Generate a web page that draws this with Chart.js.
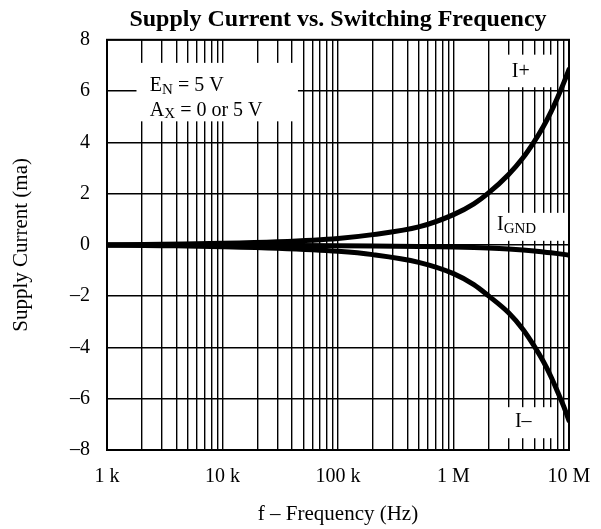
<!DOCTYPE html>
<html>
<head>
<meta charset="utf-8">
<script src="https://cdn.jsdelivr.net/npm/chart.js@4/dist/chart.umd.min.js"></script>
<style>
  html, body { margin: 0; padding: 0; background: #fff; overflow: hidden; }
  #wrap { width: 601px; height: 529px; position: relative; }
</style>
</head>
<body>
<div id="wrap"><canvas id="chart"></canvas></div>
<script>
// frequencies (Hz)
const freqs = [1e3, 3e3, 1e4, 3e4, 1e5, 2e5, 5e5, 1e6, 1.5e6, 2e6, 3e6, 4e6, 5e6, 6e6, 7e6, 8e6, 9e6, 1e7];
// supply currents (mA)
const iPlus = [0, 0.03, 0.06, 0.12, 0.25, 0.4, 0.7, 1.18, 1.6, 2.02, 2.75, 3.4, 4.03, 4.62, 5.2, 5.77, 6.32, 6.85];
const iMinus = [0, -0.03, -0.07, -0.13, -0.25, -0.38, -0.68, -1.12, -1.55, -1.98, -2.65, -3.3, -3.95, -4.55, -5.15, -5.75, -6.3, -6.85];
const iGnd = [0, 0, -0.01, -0.02, -0.03, -0.04, -0.06, -0.08, -0.1, -0.12, -0.16, -0.2, -0.24, -0.28, -0.31, -0.34, -0.37, -0.4];

// axis labels
const decades = [1e3, 1e4, 1e5, 1e6, 1e7];
const decadeLabels = ["1 k", "10 k", "100 k", "1 M", "10 M"];
const yTicks = [-8, -6, -4, -2, 0, 2, 4, 6, 8];

const serif = "'Liberation Serif', 'Times New Roman', serif";

// grid at 1..9 of each decade
const gridValues = [];
decades.slice(0, -1).forEach(d => {
    for (let m = 1; m <= 9; m++) gridValues.push(d * m);
});
gridValues.push(decades[decades.length - 1]);

// white label boxes, in data units
const notes = [
    { x0: 1.8e3, x1: 4.5e4, y0: 4.82, y1: 7.1, lines: [
        { x: 2.35e3, y: 6.2, parts: [["E"], ["N", true], [" = 5 V"]] },
        { x: 2.35e3, y: 5.25, parts: [["A"], ["X", true], [" = 0 or 5 V"]] }
    ]},
    { x0: 2.3e6, x1: 7.2e6, y0: 6.15, y1: 7.42, lines: [
        { x: 3.2e6, y: 6.75, parts: [["I+"]] }
    ]},
    { x0: 2.15e6, x1: 9.6e6, y0: 0.16, y1: 1.25, lines: [
        { x: 2.38e6, y: 0.78, parts: [["I"], ["GND", true]] }
    ]},
    { x0: 2.3e6, x1: 7.2e6, y0: -7.54, y1: -6.33, lines: [
        { x: 3.4e6, y: -6.9, parts: [["I\u2013"]] }
    ]}
];

const notesPlugin = {
    id: "notes",
    beforeDatasetsDraw(chart) {
        const { ctx, scales: { x, y }, chartArea: a } = chart;
        ctx.save();
        notes.forEach(n => {
            const l = x.getPixelForValue(n.x0), r = x.getPixelForValue(n.x1);
            const t = y.getPixelForValue(n.y1), b = y.getPixelForValue(n.y0);
            ctx.fillStyle = "#fff";
            ctx.fillRect(l, t, r - l, b - t);
            ctx.fillStyle = "#000";
            ctx.textBaseline = "middle";
            n.lines.forEach(line => {
                let px = x.getPixelForValue(line.x);
                const py = y.getPixelForValue(line.y);
                line.parts.forEach(([txt, sub]) => {
                    ctx.font = (sub ? "15px " : "20px ") + serif;
                    ctx.fillText(txt, px, sub ? py + 4 : py);
                    px += ctx.measureText(txt).width;
                });
            });
        });
        // frame
        ctx.strokeStyle = "#000";
        ctx.lineWidth = 2;
        ctx.strokeRect(a.left, a.top, a.right - a.left, a.bottom - a.top);
        ctx.restore();
    }
};

const line = (data) => ({
    data: freqs.map((f, i) => ({ x: f, y: data[i] })),
    borderColor: "#000",
    borderWidth: 5,
    pointRadius: 0,
    borderCapStyle: "round",
    cubicInterpolationMode: "monotone",
    fill: false
});

new Chart(document.getElementById("chart"), {
    type: "line",
    data: {
        datasets: [line(iPlus), line(iGnd), line(iMinus)]
    },
    options: {
        responsive: true,
        maintainAspectRatio: false,
        animation: false,
        layout: { padding: { left: 0, right: 32, top: 0, bottom: 0 } },
        plugins: {
            legend: { display: false },
            tooltip: { enabled: false },
            title: {
                display: true,
                fullSize: false,
                text: "Supply Current vs. Switching Frequency",
                color: "#000",
                font: { family: serif, size: 24, weight: "bold", lineHeight: 1.2 },
                padding: { top: 5, bottom: 6 }
            }
        },
        scales: {
            x: {
                type: "logarithmic",
                min: decades[0],
                max: decades[decades.length - 1],
                afterBuildTicks: (scale) => { scale.ticks = gridValues.map(v => ({ value: v })); },
                afterFit: (scale) => {
                    scale.height = 79;
                    scale.paddingLeft = 0;
                    scale.paddingRight = 0;
                },
                grid: { color: "#000", lineWidth: 1.4, drawTicks: false },
                border: { color: "#000", width: 2 },
                ticks: {
                    autoSkip: false,
                    maxRotation: 0,
                    padding: 15,
                    color: "#000",
                    font: { family: serif, size: 20 },
                    callback: (v) => {
                        const i = decades.indexOf(v);
                        return i >= 0 ? decadeLabels[i] : "";
                    }
                },
                title: {
                    display: true,
                    text: "f \u2013 Frequency (Hz)",
                    color: "#000",
                    font: { family: serif, size: 21 },
                    padding: { top: 0, bottom: 1.5 }
                }
            },
            y: {
                min: -8,
                max: 8,
                afterBuildTicks: (scale) => { scale.ticks = yTicks.map(v => ({ value: v })); },
                afterFit: (scale) => { scale.width = 107; },
                grid: { color: "#000", lineWidth: 1.4, drawTicks: false },
                border: { color: "#000", width: 2 },
                ticks: {
                    padding: 17,
                    color: "#000",
                    font: { family: serif, size: 20 },
                    callback: (v) => v < 0 ? "\u2013" + Math.abs(v) : String(v)
                },
                title: {
                    display: true,
                    text: "Supply Current (ma)",
                    color: "#000",
                    font: { family: serif, size: 21 },
                    padding: { top: 9, bottom: 0 }
                }
            }
        }
    },
    plugins: [notesPlugin]
});
</script>
</body>
</html>
